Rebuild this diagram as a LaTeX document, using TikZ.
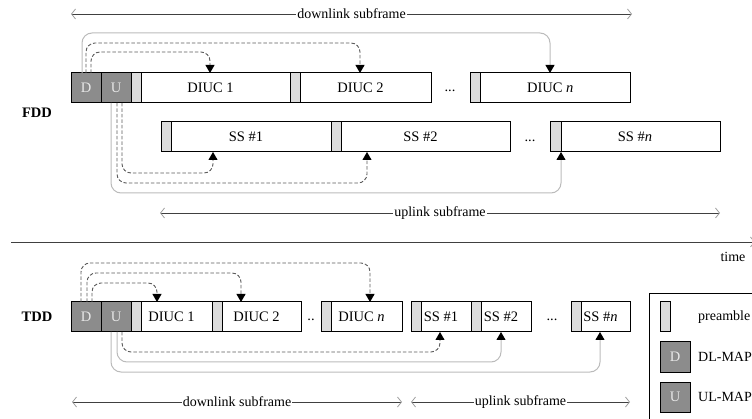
\documentclass[tikz,border=0pt]{standalone}
\usepackage{fontspec}
\setmainfont{Liberation Serif}
\usetikzlibrary{arrows.meta}

\definecolor{mapgray}{HTML}{8C8C8C}
\definecolor{pregray}{HTML}{DCDCDC}
\definecolor{maptext}{HTML}{E8E8E8}
\definecolor{dashcol}{HTML}{5A5A5A}
\definecolor{softline}{HTML}{BBBBBB}
\definecolor{spanline}{HTML}{404040}
\definecolor{barbcol}{HTML}{A0A0A0}

\begin{document}
\begin{tikzpicture}[x=1pt,y=-1pt,
  every node/.style={font=\fontsize{14.5}{16}\selectfont},
  slotbox/.style={draw=black, line width=1pt, fill=white, minimum height=30pt,
    minimum width=#1, inner sep=0pt, outer sep=0pt, anchor=north west},
  mapbox/.style={draw=black, line width=1pt, fill=mapgray, text=maptext,
    minimum height=30pt, minimum width=#1, inner sep=0pt, outer sep=0pt, anchor=north west},
  mapbox/.default=30,
  preamblebox/.style={draw=black, line width=1pt, fill=pregray, minimum height=30pt,
    minimum width=#1, inner sep=0pt, outer sep=0pt, anchor=north west},
  preamblebox/.default=10,
  tip/.style={-{Triangle[length=8pt,width=9pt,color=black]}},
  dlink/.style={draw=dashcol, line width=0.9pt, dash pattern=on 3.5pt off 2pt,
    rounded corners=9pt, tip},
  glink/.style={draw=softline, line width=1pt, rounded corners=10pt, tip},
  span/.style={draw=spanline, line width=0.8pt,
    {Straight Barb[length=4pt,width=10pt,color=barbcol]}-{Straight Barb[length=4pt,width=10pt,color=barbcol]}},
  spanlabel/.style={fill=white, inner sep=1pt, font=\fontsize{14}{16}\selectfont},
  plain/.style={font=\fontsize{14}{16}\selectfont},
  dots/.style={inner sep=0pt}
]
\useasboundingbox (0,0) rectangle (752,419);
\clip (0,0) rectangle (752,419);

% ---------------- FDD ----------------
\node[font=\fontsize{14.5}{16}\selectfont\bfseries] (fddlabel) at (37,113) {FDD};

% downlink slots
\node[mapbox] (fD) at (71,73) {D};
\node[mapbox] (fU) at (101,73) {U};
\node[slotbox=159] (fd1) at (131,73) {DIUC 1};
\node[preamblebox] (fd1p) at (131,73) {};
\node[slotbox=141] (fd2) at (290,73) {DIUC 2};
\node[preamblebox] (fd2p) at (290,73) {};
\node[dots] (fddots) at (450,91) {...};
\node[slotbox=159.5] (fdn) at (470.5,73) {DIUC \textit{n}};
\node[preamblebox=9.5] (fdnp) at (470.5,73) {};

% uplink slots
\node[slotbox=170] (fs1) at (161,122) {SS \#1};
\node[preamblebox] (fs1p) at (161,122) {};
\node[slotbox=179] (fs2) at (331,122) {SS \#2};
\node[preamblebox] (fs2p) at (331,122) {};
\node[dots] (fsdots) at (530,141) {...};
\node[slotbox=170] (fsn) at (550,122) {SS \#\textit{n}};
\node[preamblebox=11] (fsnp) at (550,122) {};

% DL-MAP pointers
\draw[glink] ([xshift=11]fD.north west) -- ++(0,-40) -| ([xshift=79.5]fdn.north west);
\draw[dlink] ([xshift=15]fD.north west) -- ++(0,-30) -| ([xshift=70]fd2.north west);
\draw[dlink] ([xshift=20]fD.north west) -- ++(0,-21) -| ([xshift=79]fd1.north west);

% UL-MAP pointers
\draw[glink] ([xshift=10]fU.south west) -- ++(0,90) -| ([xshift=11]fsn.south west);
\draw[dlink] ([xshift=16]fU.south west) -- ++(0,80) -| ([xshift=36]fs2.south west);
\draw[dlink] ([xshift=21]fU.south west) -- ++(0,70) -| ([xshift=52]fs1.south west);

% subframe spans
\coordinate (fdlA) at (71,14);
\coordinate (fdlB) at (632,14);
\draw[span] (fdlA) -- (fdlB) node[spanlabel, midway] (fdltext) {downlink subframe};
\coordinate (fulA) at (160,213);
\coordinate (fulB) at (720,213);
\draw[span] (fulA) -- (fulB) node[spanlabel, midway] (fultext) {uplink subframe};

% ---------------- time axis ----------------
\coordinate (tA) at (11,242);
\coordinate (tB) at (755,242);
\draw[draw=spanline, line width=0.8pt, -{Straight Barb[length=4pt,width=10pt,color=barbcol]}] (tA) -- (tB);
\node[plain] (timelabel) at (733,257) {time};

% ---------------- TDD ----------------
\node[font=\fontsize{14.5}{16}\selectfont\bfseries] (tddlabel) at (37,317) {TDD};

\node[mapbox] (tD) at (71,302) {D};
\node[mapbox] (tU) at (101,302) {U};
\node[slotbox=81] (td1) at (131,302) {DIUC 1};
\node[preamblebox] (td1p) at (131,302) {};
\node[slotbox=89] (td2) at (212,302) {DIUC 2};
\node[preamblebox] (td2p) at (212,302) {};
\node[dots] (tddots) at (311,320) {..};
\node[slotbox=81] (tdn) at (321,302) {DIUC \textit{n}};
\node[preamblebox] (tdnp) at (321,302) {};
\node[slotbox=60] (ts1) at (411,302) {SS \#1};
\node[preamblebox] (ts1p) at (411,302) {};
\node[slotbox=60] (ts2) at (471,302) {SS \#2};
\node[preamblebox] (ts2p) at (471,302) {};
\node[dots] (tsdots) at (552,320) {...};
\node[slotbox=59] (tsn) at (571,302) {SS \#\textit{n}};
\node[preamblebox] (tsnp) at (571,302) {};

% DL-MAP pointers
\draw[dlink] ([xshift=10]tD.north west) -- ++(0,-39) -| ([xshift=49]tdn.north west);
\draw[dlink] ([xshift=16]tD.north west) -- ++(0,-29) -| ([xshift=29]td2.north west);
\draw[dlink] ([xshift=21]tD.north west) -- ++(0,-19) -| ([xshift=26]td1.north west);

% UL-MAP pointers
\draw[glink] ([xshift=10]tU.south west) -- ++(0,40) -| ([xshift=29]tsn.south west);
\draw[glink] ([xshift=16]tU.south west) -- ++(0,30) -| ([xshift=30]ts2.south west);
\draw[dlink] ([xshift=21]tU.south west) -- ++(0,20) -| ([xshift=29]ts1.south west);

% subframe spans
\coordinate (tdlA) at (72,402);
\coordinate (tdlB) at (402,402);
\draw[span] (tdlA) -- (tdlB) node[spanlabel, midway] (tdltext) {downlink subframe};
\coordinate (tulA) at (411,402);
\coordinate (tulB) at (630,402);
\draw[span] (tulA) -- (tulB) node[spanlabel, midway] (tultext) {uplink subframe};

% ---------------- legend ----------------
\node[draw=black, line width=1pt, minimum width=140pt, minimum height=160pt,
      inner sep=0pt, outer sep=0pt, anchor=north west] (legend) at (649,294) {};
\node[preamblebox] (lpre) at (660,302) {};
\node[plain, anchor=west, inner sep=0pt] (lpretext) at (698,317) {preamble};
\node[mapbox] (lD) at (660,342) {D};
\node[plain, anchor=west, inner sep=0pt] (lDtext) at (698,357) {DL-MAP};
\node[mapbox] (lU) at (660,382) {U};
\node[plain, anchor=west, inner sep=0pt] (lUtext) at (698,397) {UL-MAP};
\end{tikzpicture}
\end{document}
